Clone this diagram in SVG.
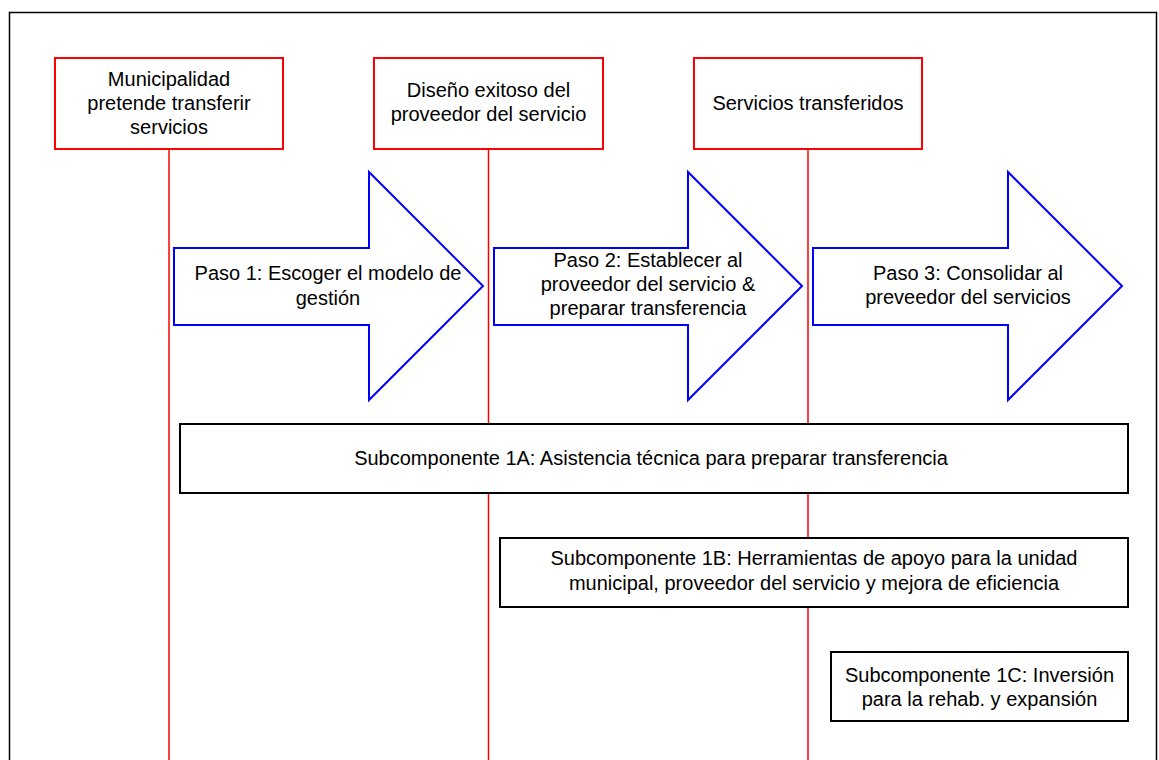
<svg xmlns="http://www.w3.org/2000/svg" width="1159" height="760" viewBox="0 0 1159 760">
<style>
text{font-family:"Liberation Sans",Arial,sans-serif;font-size:20px;fill:#000;text-anchor:middle}
.hdr{fill:#fff;stroke:#ff0000;stroke-width:2}
.vline{stroke:#ff0000;stroke-width:1.5;fill:none}
.arrow{fill:#fff;stroke:#0000ff;stroke-width:2;stroke-linejoin:miter}
.sub{fill:#fff;stroke:#000;stroke-width:2}
</style>
<rect x="0" y="0" width="1159" height="760" fill="#fff"/>
<rect id="frame" x="9.5" y="12.5" width="1147" height="760" fill="none" stroke="#000" stroke-width="1.5"/>
<g id="connectors">
<line class="vline" x1="169" y1="149" x2="169" y2="760"/>
<line class="vline" x1="488.5" y1="149" x2="488.5" y2="760"/>
<line class="vline" x1="808" y1="149" x2="808" y2="760"/>
</g>
<g id="hdr1">
<rect class="hdr" x="55" y="58" width="228" height="91"/>
<text x="169" y="86">Municipalidad</text>
<text x="169" y="110">pretende transferir</text>
<text x="169" y="134">servicios</text>
</g>
<g id="hdr2">
<rect class="hdr" x="374" y="58" width="229" height="91"/>
<text x="488.5" y="97">Diseño exitoso del</text>
<text x="488.5" y="121">proveedor del servicio</text>
</g>
<g id="hdr3">
<rect class="hdr" x="694" y="58" width="228" height="91"/>
<text x="808" y="110">Servicios transferidos</text>
</g>
<g id="paso1">
<polygon class="arrow" points="174,248 369,248 369,172 483,286 369,400 369,325 174,325"/>
<text x="328" y="280">Paso 1: Escoger el modelo de</text>
<text x="328" y="305">gestión</text>
</g>
<g id="paso2">
<polygon class="arrow" points="494,248 688,248 688,172 802,286 688,400 688,325 494,325"/>
<text x="648" y="267">Paso 2: Establecer al</text>
<text x="648" y="291">proveedor del servicio &amp;</text>
<text x="648" y="315">preparar transferencia</text>
</g>
<g id="paso3">
<polygon class="arrow" points="813,248 1008,248 1008,172 1122,286 1008,400 1008,325 813,325"/>
<text x="968" y="280">Paso 3: Consolidar al</text>
<text x="968" y="304">preveedor del servicios</text>
</g>
<g id="sub1a">
<rect class="sub" x="180" y="424" width="948" height="69"/>
<text x="651" y="465">Subcomponente 1A: Asistencia técnica para preparar transferencia</text>
</g>
<g id="sub1b">
<rect class="sub" x="500" y="538" width="628" height="69"/>
<text x="814" y="565">Subcomponente 1B: Herramientas de apoyo para la unidad</text>
<text x="814" y="590">municipal, proveedor del servicio y mejora de eficiencia</text>
</g>
<g id="sub1c">
<rect class="sub" x="831" y="652" width="297" height="69"/>
<text x="979.5" y="682">Subcomponente 1C: Inversión</text>
<text x="979.5" y="706">para la rehab. y expansión</text>
</g>
</svg>
